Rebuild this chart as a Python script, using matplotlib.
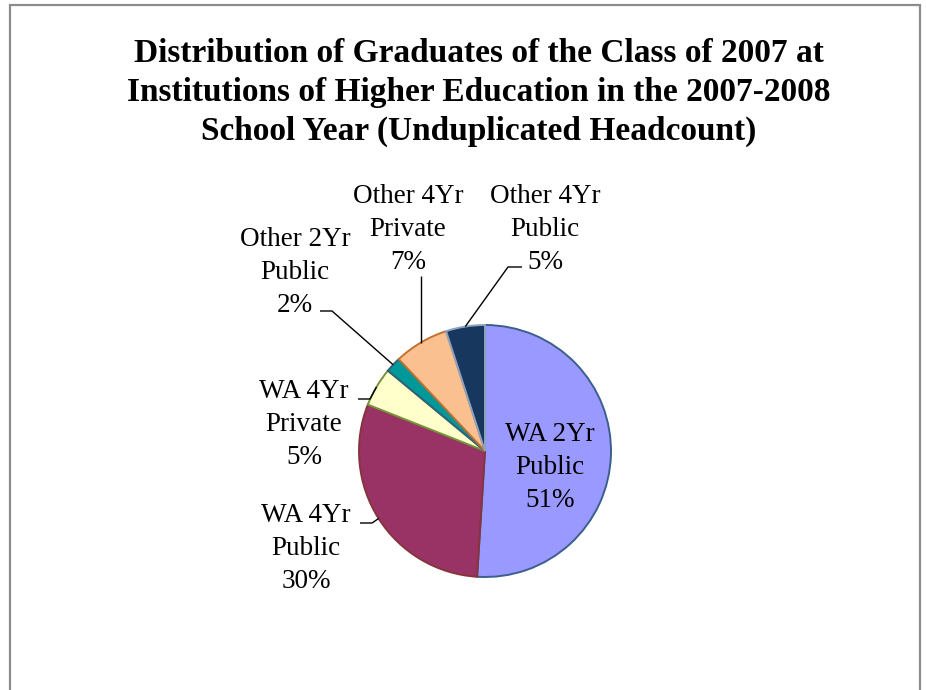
import matplotlib
matplotlib.use("Agg")
import matplotlib.pyplot as plt
import numpy as np

# ---------------- data ----------------
categories = ["WA 2Yr\nPublic", "WA 4Yr\nPublic", "WA 4Yr\nPrivate",
              "Other 2Yr\nPublic", "Other 4Yr\nPrivate", "Other 4Yr\nPublic"]
shares = [51, 30, 5, 2, 7, 5]
title_lines = ["Distribution of Graduates of the Class of 2007 at",
               "Institutions of Higher Education in the 2007-2008",
               "School Year (Unduplicated Headcount)"]

# ---------------- styles ----------------
fill_colors = ["#9999FF", "#993366", "#FFFFCC", "#009999", "#FAC090", "#17375E"]
edge_colors = ["#3C5F8C", "#86343C", "#77933C", "#31607A", "#C0732F", "#8EA3BF"]

W, H = 927, 690
DPI = 100
fig = plt.figure(figsize=(W / DPI, H / DPI), dpi=DPI)
ax = fig.add_axes([0, 0, 1, 1])

SERIF = ["Liberation Serif", "DejaVu Serif"]

def py(y):
    """convert pixel row (from top) to data y"""
    return H - y

cx, cy, R = 485, 451, 126
wedges, _ = ax.pie(shares, colors=fill_colors, startangle=90, counterclock=False,
                   center=(cx, py(cy)), radius=R,
                   wedgeprops=dict(linewidth=1.4))
for w, ec in zip(wedges, edge_colors):
    w.set_edgecolor(ec)

ax.set_xlim(0, W)
ax.set_ylim(0, H)
ax.set_aspect("auto")
ax.axis("off")

# ---------------- labels ----------------
label_size = 19.5
line_step = 33
# (x centre, first baseline row) for each label, in pixel rows from top
label_pos = [(550, 441), (306, 522), (304, 398), (295, 246), (408, 203), (545, 203)]

for cat, val, (lx, ly) in zip(categories, shares, label_pos):
    lines = cat.split("\n") + [f"{val}%"]
    for i, ln in enumerate(lines):
        ax.text(lx, py(ly + i * line_step), ln, ha="center", va="baseline",
                fontsize=label_size, family=SERIF, color="black")

# leader lines: from wedge mid-edge to elbow and end (pixel rows from top)
leader_pts = {1: [(372, 523), (360, 523)],
              2: [(370, 399), (358, 399)],
              3: [(332, 311), (320, 311)],
              4: [None],
              5: [(508, 267), (522, 267)]}
for idx, pts in leader_pts.items():
    w = wedges[idx]
    mid = np.deg2rad((w.theta1 + w.theta2) / 2)
    ex, ey = cx + R * np.cos(mid), py(cy) + R * np.sin(mid)
    if pts[0] is None:
        xs, ys = [ex, ex], [ey, py(276)]
    else:
        xs = [ex] + [p[0] for p in pts]
        ys = [ey] + [py(p[1]) for p in pts]
    ax.plot(xs, ys, color="black", lw=1.0, solid_capstyle="butt")

# ---------------- title ----------------
title_baselines = [62, 101, 140]
for t, b in zip(title_lines, title_baselines):
    ax.text(479, py(b), t, ha="center", va="baseline", fontsize=24,
            fontweight="bold", family=SERIF, color="black")

# ---------------- border ----------------
bc = "#8C8C8C"
ax.plot([10, 10, 920, 920], [py(H + 10), py(5), py(5), py(H + 10)],
        color=bc, lw=1.6, solid_joinstyle="miter", clip_on=False)

fig.savefig("out.png", dpi=DPI, facecolor="white")
